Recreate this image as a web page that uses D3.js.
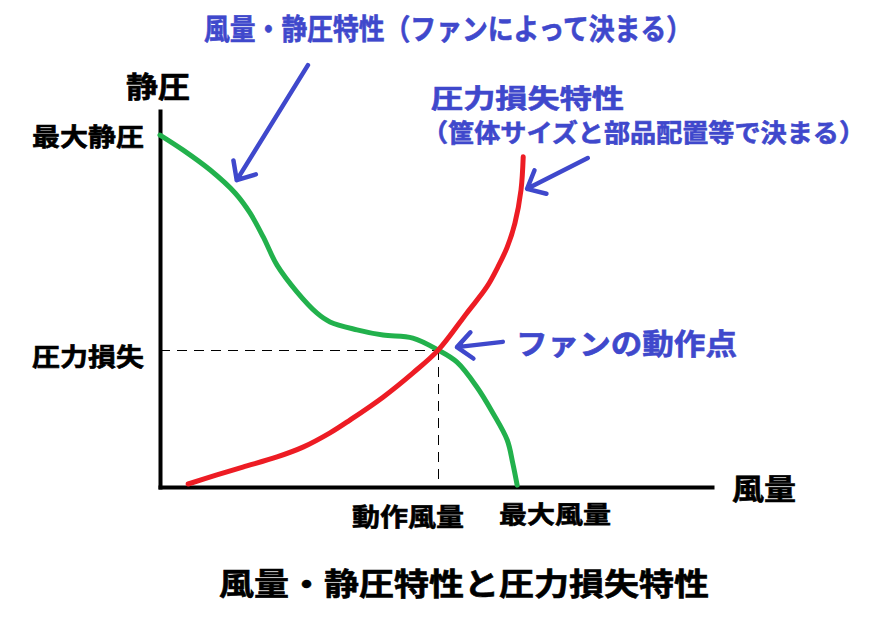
<!DOCTYPE html>
<meta charset="utf-8">
<style>
body { margin: 0; background: #fff; }
svg { font-family: "Noto Sans CJK JP", sans-serif; font-weight: bold; }
.axis path { stroke: #000; stroke-width: 4; stroke-linecap: square; }
.curve { fill: none; stroke-width: 5; stroke-linecap: round; stroke-linejoin: round; }
.guide { stroke: #000; stroke-width: 1; stroke-dasharray: 10 7; shape-rendering: crispEdges; }
.arrow { fill: none; stroke: #3f48cc; stroke-width: 4.5; stroke-linecap: round; stroke-linejoin: round; }
.label { stroke-width: 0.6; }
</style>
<body>
<script src="https://cdn.jsdelivr.net/npm/d3@7"></script>
<script>

// fan curve: airflow (% of axis) vs static pressure (% of axis)
var fanFlow     = [0, 4.2, 9.1, 13.6, 16.3, 18.7, 21.2, 24.8, 28.4, 30.8, 35.7, 40.4, 45.8, 50.4, 53.8, 57.4, 60.3, 62.9, 63.9, 64.7];
var fanPressure = [93.6, 89.6, 84.3, 78.2, 72.9, 66.5, 59.0, 51.9, 46.3, 43.9, 41.8, 40.4, 39.6, 36.4, 33.2, 26.6, 19.7, 12.5, 6.4, 0.5];

// system (pressure loss) curve
var lossFlow     = [5.1, 10.3, 15.0, 21.2, 25.9, 30.8, 34.4, 40.4, 45.8, 50.4, 55.6, 59.2, 61.2, 62.9, 64.3, 65.4, 65.8];
var lossPressure = [0.8, 3.2, 5.3, 8.0, 10.6, 14.4, 17.8, 23.9, 30.3, 36.4, 46.3, 53.2, 58.5, 63.8, 70.2, 79.0, 87.8];

// operating point
var opPoint = [50.4, 36.4];

// annotation arrows: [tail, tip] in chart units
var arrows = [
  [[26.8, 112.2], [13.9, 81.6]],
  [[77.5, 87.5], [66.5, 79.3]],
  [[62.1, 38.6], [53.8, 37.2]]
];

var width = 888, height = 620;
var svg = d3.select("body").append("svg")
  .attr("width", width)
  .attr("height", height);

var x = d3.scaleLinear().domain([0, 100]).range([160, 712]);
var y = d3.scaleLinear().domain([0, 100]).range([487, 111]);

svg.append("g").attr("class", "axis")
  .attr("transform", "translate(0," + y(0) + ")")
  .call(d3.axisBottom(x).ticks(0).tickSizeOuter(0));
svg.append("g").attr("class", "axis")
  .attr("transform", "translate(" + x(0) + ",0)")
  .call(d3.axisLeft(y).ticks(0).tickSizeOuter(0));

// dashed guides to the operating point
svg.append("line").attr("class", "guide")
  .attr("x1", x(0)).attr("y1", y(opPoint[1]))
  .attr("x2", x(opPoint[0])).attr("y2", y(opPoint[1]));
svg.append("line").attr("class", "guide")
  .attr("x1", x(opPoint[0])).attr("y1", y(opPoint[1]))
  .attr("x2", x(opPoint[0])).attr("y2", y(0));

var line = d3.line()
  .x(function (d) { return x(d[0]); })
  .y(function (d) { return y(d[1]); })
  .curve(d3.curveCatmullRom);

svg.append("path").attr("class", "curve")
  .attr("stroke", "#22b14c")
  .attr("d", line(d3.zip(fanFlow, fanPressure)));
svg.append("path").attr("class", "curve")
  .attr("stroke", "#ed1c24")
  .attr("d", line(d3.zip(lossFlow, lossPressure)));

// arrows, head built from the shaft direction
arrows.forEach(function (a) {
  var x0 = x(a[0][0]), y0 = y(a[0][1]), x1 = x(a[1][0]), y1 = y(a[1][1]);
  var ang = Math.atan2(y0 - y1, x0 - x1), len = 20, spread = 0.72;
  var h1 = [x1 + len * Math.cos(ang + spread), y1 + len * Math.sin(ang + spread)];
  var h2 = [x1 + len * Math.cos(ang - spread), y1 + len * Math.sin(ang - spread)];
  svg.append("path").attr("class", "arrow")
    .attr("d", "M" + x0 + "," + y0 + "L" + x1 + "," + y1 +
               "M" + h1 + "L" + x1 + "," + y1 + "L" + h2);
});

// labels: [text, x, y(center), size, fitted width, colour]
var labels = [
  ["風量・静圧特性（ファンによって決まる）", 204, 27, 29, 488, "#3f48cc"],
  ["圧力損失特性", 431, 96, 26, 193, "#3f48cc"],
  ["（筐体サイズと部品配置等で決まる）", 422, 131, 25, 443, "#3f48cc"],
  ["ファンの動作点", 516, 341.5, 29, 221, "#3f48cc"],
  ["静圧", 126, 85, 29, 64, "#000"],
  ["最大静圧", 32, 135, 25, 112, "#000"],
  ["圧力損失", 32, 354.5, 25, 112, "#000"],
  ["動作風量", 352, 515, 25, 112, "#000"],
  ["最大風量", 499, 512.5, 24, 112, "#000"],
  ["風量", 732, 486.5, 29, 64, "#000"],
  ["風量・静圧特性と圧力損失特性", 219, 581, 31, 490, "#000"]
];

svg.selectAll("text.label").data(labels).enter().append("text")
  .attr("class", "label")
  .attr("x", function (d) { return d[1]; })
  .attr("y", function (d) { return d[2]; })
  .attr("dominant-baseline", "central")
  .attr("font-size", function (d) { return d[3]; })
  .attr("textLength", function (d) { return d[4]; })
  .attr("lengthAdjust", "spacingAndGlyphs")
  .attr("fill", function (d) { return d[5]; })
  .attr("stroke", function (d) { return d[5]; })
  .text(function (d) { return d[0]; });

</script>
